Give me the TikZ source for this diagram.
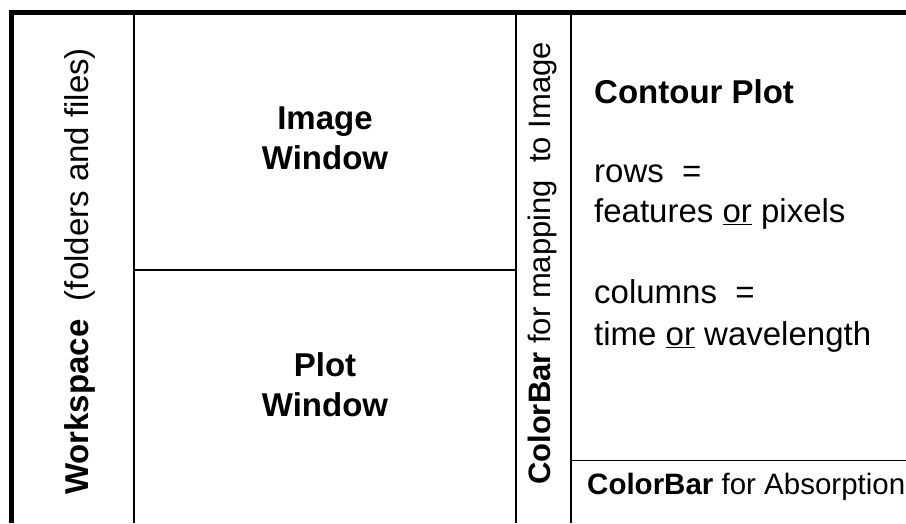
\documentclass[tikz,border=0pt]{standalone}
\usepackage{fontspec}
\setmainfont{Liberation Sans}
\begin{document}
\begin{tikzpicture}[x=1pt,y=-1pt,
  thick border/.style={line width=5pt,line join=miter,line cap=butt},
  thin/.style={line width=1.4pt},
  lbl/.style={inner sep=0pt,font=\fontsize{33}{40}\selectfont},
  blbl/.style={inner sep=0pt,font=\fontsize{33}{40}\selectfont\bfseries,align=center}]
\useasboundingbox (0,0) rectangle (906,523);
\fill[white] (0,0) rectangle (906,523);
% frame
\draw[thick border] (11.5,523) -- (11.5,12.5) -- (906,12.5);
\draw[thin] (134,15) -- (134,523);
\draw[thin] (516,15) -- (516,523);
\draw[thin] (571,15) -- (571,523);
\draw[thin] (134,270) -- (516,270);
\draw[thin] (571,460.5) -- (906,460.5);
% texts
\node[lbl,rotate=90] (ws) at (80,271.5) {\textbf{Workspace}\ \ (folders and files)};
\node[blbl] (img) at (325,138.5) {Image\\Window};
\node[blbl] (plt) at (325,385) {Plot\\Window};
\node[lbl,rotate=90,font=\fontsize{31}{37}\selectfont] (cbm) at (542,263.5) {\textbf{ColorBar} for mapping\ \ to Image};
\node[lbl,anchor=base west,font=\fontsize{33}{40}\selectfont\bfseries] (cp) at (594,103) {Contour Plot};
\node[lbl,anchor=base west] (r1) at (594,182) {rows\ \ =};
\node[lbl,anchor=base west] (r2) at (594,222) {features \underline{or} pixels};
\node[lbl,anchor=base west] (c1) at (594,303) {columns\ \ =};
\node[lbl,anchor=base west] (c2) at (594,345) {time \underline{or} wavelength};
\node[lbl,anchor=base west,font=\fontsize{29.5}{35}\selectfont] (cba) at (587,494) {\textbf{ColorBar} for Absorption};
\end{tikzpicture}
\end{document}
